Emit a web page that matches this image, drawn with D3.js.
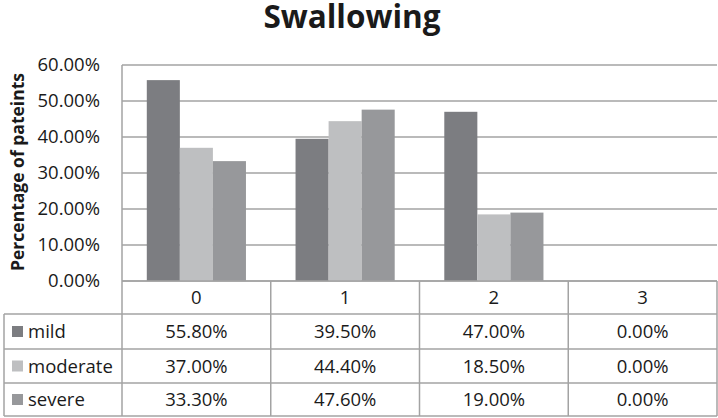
<!DOCTYPE html>
<html><head><meta charset="utf-8">
<script src="https://cdn.jsdelivr.net/npm/d3@7"></script>
<style>body{margin:0;background:#fff}svg{display:block}text{font-family:"Open Sans",sans-serif;fill:#1a1a1a}</style>
</head><body><svg id="c" width="718" height="418"></svg>
<script>
const title = "Swallowing";
const yTitle = "Percentage of pateints";
const categories = ["0","1","2","3"];
const seriesNames = ["mild","moderate","severe"];
const mild = [55.8, 39.5, 47.0, 0.0];
const moderate = [37.0, 44.4, 18.5, 0.0];
const severe = [33.3, 47.6, 19.0, 0.0];
const yTicks = [0,10,20,30,40,50,60];
const colors = ["#7c7d81","#bebfc1","#97989b"];

const series = [mild, moderate, severe];
const svg = d3.select("#c");
const L = 122, R = 717, T = 65, B = 281;
const rowH = [281, 314, 349, 383, 416];
const tableLeft = 4;
const gridC = "#a3a3a3";
const fs = "18.5px";

const y = d3.scaleLinear().domain([0,60]).range([B,T]);
const x0 = d3.scaleBand().domain(categories).range([L,R]).padding(0);
const x1 = d3.scaleBand().domain(seriesNames)
  .range([x0.bandwidth()*0.75/4.5, x0.bandwidth()*(1-0.75/4.5)]).padding(0);

// title
svg.append("text").attr("x",352).attr("y",28).attr("text-anchor","middle")
  .style("font-size","31.5px").style("font-weight","bold").attr("fill","#141414").text(title);

// y title
svg.append("text").attr("transform",`translate(24,${(T+B)/2-1}) rotate(-90)`).attr("text-anchor","middle")
  .style("font-size","17.5px").style("font-weight","bold").text(yTitle);

// gridlines
svg.append("g").selectAll("line").data(yTicks).join("line")
  .attr("x1",L).attr("x2",R).attr("y1",d=>y(d)).attr("y2",d=>y(d))
  .attr("stroke",gridC).attr("stroke-width",1.5);

// y axis labels
const yAxis = d3.axisLeft(y).tickValues(yTicks).tickSize(0).tickPadding(22).tickFormat(d=>d.toFixed(2)+"%");
const ga = svg.append("g").attr("transform",`translate(${L},0)`).call(yAxis);
ga.select(".domain").remove();
ga.selectAll("text").style("font-size",fs).style("font-family","'Open Sans',sans-serif").attr("fill","#1a1a1a");

// bars
const groups = svg.append("g").selectAll("g").data(categories).join("g")
  .attr("transform",d=>`translate(${x0(d)},0)`);
groups.selectAll("rect").data((c,i)=>seriesNames.map((s,j)=>({s,v:series[j][i],j}))).join("rect")
  .attr("x",d=>x1(d.s)).attr("width",x1.bandwidth())
  .attr("y",d=>y(d.v)).attr("height",d=>B-y(d.v))
  .attr("fill",d=>colors[d.j]);

// table lines
const tl = svg.append("g").attr("stroke",gridC).attr("stroke-width",1.5);
tl.append("line").attr("x1",L).attr("x2",L).attr("y1",T).attr("y2",rowH[4]);
tl.append("line").attr("x1",L).attr("x2",R).attr("y1",rowH[0]).attr("y2",rowH[0]);
for(let k=1;k<5;k++) tl.append("line").attr("x1",tableLeft).attr("x2",R).attr("y1",rowH[k]).attr("y2",rowH[k]);
tl.append("line").attr("x1",tableLeft).attr("x2",tableLeft).attr("y1",rowH[1]).attr("y2",rowH[4]);
categories.forEach(c=>{
  const xe = x0(c)+x0.bandwidth();
  tl.append("line").attr("x1",xe).attr("x2",xe).attr("y1",rowH[0]).attr("y2",rowH[4]);
});

// header
svg.append("g").selectAll("text").data(categories).join("text")
  .attr("x",d=>x0(d)+x0.bandwidth()/2).attr("y",(rowH[0]+rowH[1])/2+6.5)
  .attr("text-anchor","middle").style("font-size",fs).text(d=>d);

// rows
seriesNames.forEach((s,j)=>{
  const cy = (rowH[j+1]+rowH[j+2])/2;
  svg.append("rect").attr("x",12).attr("y",cy-5.5).attr("width",11).attr("height",11).attr("fill",colors[j]);
  svg.append("text").attr("x",28).attr("y",cy+6.5).style("font-size",fs).text(s);
  svg.append("g").selectAll("text").data(categories).join("text")
    .attr("x",d=>x0(d)+x0.bandwidth()/2).attr("y",cy+6.5)
    .attr("text-anchor","middle").style("font-size",fs)
    .text((d,i)=>series[j][i].toFixed(2)+"%");
});
</script></body></html>
